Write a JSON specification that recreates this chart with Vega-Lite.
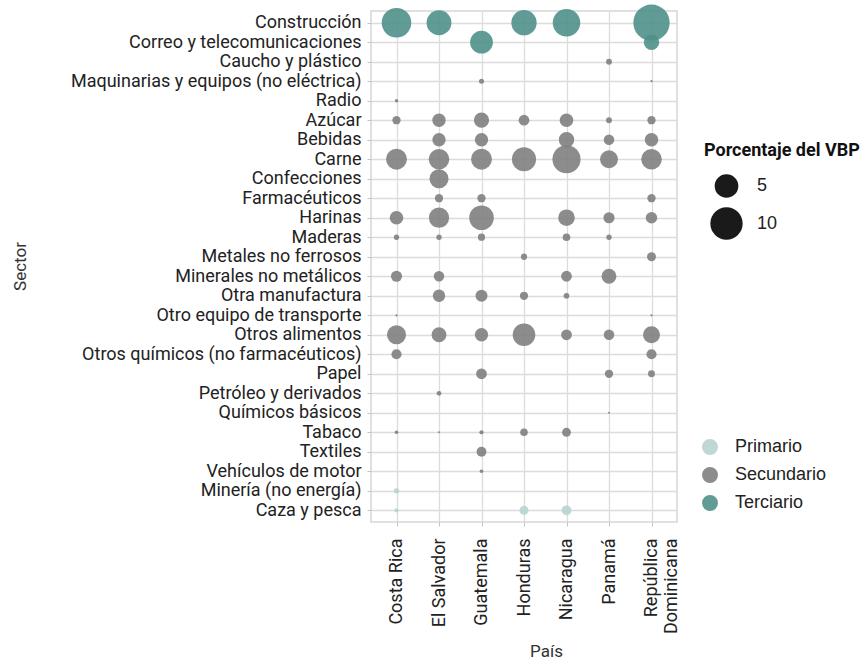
{
  "$schema": "https://vega.github.io/schema/vega-lite/v6.json",
  "width": 306,
  "height": 511,
  "autosize": {"type": "none"},
  "padding": {"left": 371, "top": 11, "right": 189, "bottom": 138},
  "background": "white",
  "config": {
    "font": "Roboto",
    "view": {"stroke": "#d6d6d6", "strokeWidth": 1.5},
    "axis": {
      "grid": true, "ticks": true,
      "gridColor": "#dcdcdc", "gridWidth": 1.3, "domain": false,
      "tickColor": "#c4c4c4", "tickSize": 4, "labelLimit": 0,
      "labelFont": "Roboto", "labelFontSize": 18, "labelColor": "#222",
      "titleFont": "Roboto", "titleFontSize": 17, "titleFontWeight": "normal", "titleColor": "#333"
    }
  },
  "data": {"values": [
    {"sector": "Construcción", "pais": "Costa Rica", "pct": 8.2, "tipo": "Terciario"},
    {"sector": "Construcción", "pais": "El Salvador", "pct": 5.6, "tipo": "Terciario"},
    {"sector": "Construcción", "pais": "Honduras", "pct": 5.8, "tipo": "Terciario"},
    {"sector": "Construcción", "pais": "Nicaragua", "pct": 7.0, "tipo": "Terciario"},
    {"sector": "Construcción", "pais": "República Dominicana", "pct": 13.0, "tipo": "Terciario"},
    {"sector": "Correo y telecomunicaciones", "pais": "Guatemala", "pct": 4.6, "tipo": "Terciario"},
    {"sector": "Correo y telecomunicaciones", "pais": "República Dominicana", "pct": 1.9, "tipo": "Terciario"},
    {"sector": "Caucho y plástico", "pais": "Panamá", "pct": 0.21, "tipo": "Secundario"},
    {"sector": "Maquinarias y equipos (no eléctrica)", "pais": "Guatemala", "pct": 0.14, "tipo": "Secundario"},
    {"sector": "Maquinarias y equipos (no eléctrica)", "pais": "República Dominicana", "pct": 0.01, "tipo": "Secundario"},
    {"sector": "Radio", "pais": "Costa Rica", "pct": 0.05, "tipo": "Secundario"},
    {"sector": "Azúcar", "pais": "Costa Rica", "pct": 0.46, "tipo": "Secundario"},
    {"sector": "Azúcar", "pais": "El Salvador", "pct": 1.38, "tipo": "Secundario"},
    {"sector": "Azúcar", "pais": "Guatemala", "pct": 1.85, "tipo": "Secundario"},
    {"sector": "Azúcar", "pais": "Honduras", "pct": 0.85, "tipo": "Secundario"},
    {"sector": "Azúcar", "pais": "Nicaragua", "pct": 1.44, "tipo": "Secundario"},
    {"sector": "Azúcar", "pais": "Panamá", "pct": 0.21, "tipo": "Secundario"},
    {"sector": "Azúcar", "pais": "República Dominicana", "pct": 0.46, "tipo": "Secundario"},
    {"sector": "Bebidas", "pais": "El Salvador", "pct": 1.38, "tipo": "Secundario"},
    {"sector": "Bebidas", "pais": "Guatemala", "pct": 1.38, "tipo": "Secundario"},
    {"sector": "Bebidas", "pais": "Nicaragua", "pct": 1.92, "tipo": "Secundario"},
    {"sector": "Bebidas", "pais": "Panamá", "pct": 0.8, "tipo": "Secundario"},
    {"sector": "Bebidas", "pais": "República Dominicana", "pct": 1.44, "tipo": "Secundario"},
    {"sector": "Carne", "pais": "Costa Rica", "pct": 3.77, "tipo": "Secundario"},
    {"sector": "Carne", "pais": "El Salvador", "pct": 3.66, "tipo": "Secundario"},
    {"sector": "Carne", "pais": "Guatemala", "pct": 3.77, "tipo": "Secundario"},
    {"sector": "Carne", "pais": "Honduras", "pct": 5.21, "tipo": "Secundario"},
    {"sector": "Carne", "pais": "Nicaragua", "pct": 7.34, "tipo": "Secundario"},
    {"sector": "Carne", "pais": "Panamá", "pct": 2.68, "tipo": "Secundario"},
    {"sector": "Carne", "pais": "República Dominicana", "pct": 3.66, "tipo": "Secundario"},
    {"sector": "Confecciones", "pais": "El Salvador", "pct": 3.09, "tipo": "Secundario"},
    {"sector": "Farmacéuticos", "pais": "El Salvador", "pct": 0.46, "tipo": "Secundario"},
    {"sector": "Farmacéuticos", "pais": "Guatemala", "pct": 0.46, "tipo": "Secundario"},
    {"sector": "Farmacéuticos", "pais": "República Dominicana", "pct": 0.46, "tipo": "Secundario"},
    {"sector": "Harinas", "pais": "Costa Rica", "pct": 1.44, "tipo": "Secundario"},
    {"sector": "Harinas", "pais": "El Salvador", "pct": 3.52, "tipo": "Secundario"},
    {"sector": "Harinas", "pais": "Guatemala", "pct": 5.47, "tipo": "Secundario"},
    {"sector": "Harinas", "pais": "Nicaragua", "pct": 2.27, "tipo": "Secundario"},
    {"sector": "Harinas", "pais": "Panamá", "pct": 0.91, "tipo": "Secundario"},
    {"sector": "Harinas", "pais": "República Dominicana", "pct": 0.98, "tipo": "Secundario"},
    {"sector": "Maderas", "pais": "Costa Rica", "pct": 0.16, "tipo": "Secundario"},
    {"sector": "Maderas", "pais": "El Salvador", "pct": 0.16, "tipo": "Secundario"},
    {"sector": "Maderas", "pais": "Guatemala", "pct": 0.34, "tipo": "Secundario"},
    {"sector": "Maderas", "pais": "Nicaragua", "pct": 0.38, "tipo": "Secundario"},
    {"sector": "Maderas", "pais": "Panamá", "pct": 0.16, "tipo": "Secundario"},
    {"sector": "Metales no ferrosos", "pais": "Honduras", "pct": 0.24, "tipo": "Secundario"},
    {"sector": "Metales no ferrosos", "pais": "República Dominicana", "pct": 0.55, "tipo": "Secundario"},
    {"sector": "Minerales no metálicos", "pais": "Costa Rica", "pct": 0.91, "tipo": "Secundario"},
    {"sector": "Minerales no metálicos", "pais": "El Salvador", "pct": 0.8, "tipo": "Secundario"},
    {"sector": "Minerales no metálicos", "pais": "Nicaragua", "pct": 0.85, "tipo": "Secundario"},
    {"sector": "Minerales no metálicos", "pais": "Panamá", "pct": 1.75, "tipo": "Secundario"},
    {"sector": "Otra manufactura", "pais": "El Salvador", "pct": 1.17, "tipo": "Secundario"},
    {"sector": "Otra manufactura", "pais": "Guatemala", "pct": 1.09, "tipo": "Secundario"},
    {"sector": "Otra manufactura", "pais": "Honduras", "pct": 0.46, "tipo": "Secundario"},
    {"sector": "Otra manufactura", "pais": "Nicaragua", "pct": 0.19, "tipo": "Secundario"},
    {"sector": "Otro equipo de transporte", "pais": "Costa Rica", "pct": 0.01, "tipo": "Secundario"},
    {"sector": "Otro equipo de transporte", "pais": "República Dominicana", "pct": 0.01, "tipo": "Secundario"},
    {"sector": "Otros alimentos", "pais": "Costa Rica", "pct": 3.09, "tipo": "Secundario"},
    {"sector": "Otros alimentos", "pais": "El Salvador", "pct": 1.75, "tipo": "Secundario"},
    {"sector": "Otros alimentos", "pais": "Guatemala", "pct": 1.38, "tipo": "Secundario"},
    {"sector": "Otros alimentos", "pais": "Honduras", "pct": 4.52, "tipo": "Secundario"},
    {"sector": "Otros alimentos", "pais": "Nicaragua", "pct": 0.85, "tipo": "Secundario"},
    {"sector": "Otros alimentos", "pais": "Panamá", "pct": 0.8, "tipo": "Secundario"},
    {"sector": "Otros alimentos", "pais": "República Dominicana", "pct": 2.38, "tipo": "Secundario"},
    {"sector": "Otros químicos (no farmacéuticos)", "pais": "Costa Rica", "pct": 0.74, "tipo": "Secundario"},
    {"sector": "Otros químicos (no farmacéuticos)", "pais": "República Dominicana", "pct": 0.74, "tipo": "Secundario"},
    {"sector": "Papel", "pais": "Guatemala", "pct": 0.85, "tipo": "Secundario"},
    {"sector": "Papel", "pais": "Panamá", "pct": 0.46, "tipo": "Secundario"},
    {"sector": "Papel", "pais": "República Dominicana", "pct": 0.31, "tipo": "Secundario"},
    {"sector": "Petróleo y derivados", "pais": "El Salvador", "pct": 0.12, "tipo": "Secundario"},
    {"sector": "Químicos básicos", "pais": "Panamá", "pct": 0.005, "tipo": "Secundario"},
    {"sector": "Tabaco", "pais": "Costa Rica", "pct": 0.06, "tipo": "Secundario"},
    {"sector": "Tabaco", "pais": "El Salvador", "pct": 0.005, "tipo": "Secundario"},
    {"sector": "Tabaco", "pais": "Guatemala", "pct": 0.09, "tipo": "Secundario"},
    {"sector": "Tabaco", "pais": "Honduras", "pct": 0.38, "tipo": "Secundario"},
    {"sector": "Tabaco", "pais": "Nicaragua", "pct": 0.55, "tipo": "Secundario"},
    {"sector": "Textiles", "pais": "Guatemala", "pct": 0.69, "tipo": "Secundario"},
    {"sector": "Vehículos de motor", "pais": "Guatemala", "pct": 0.06, "tipo": "Secundario"},
    {"sector": "Minería (no energía)", "pais": "Costa Rica", "pct": 0.16, "tipo": "Primario"},
    {"sector": "Caza y pesca", "pais": "Costa Rica", "pct": 0.09, "tipo": "Primario"},
    {"sector": "Caza y pesca", "pais": "Honduras", "pct": 0.55, "tipo": "Primario"},
    {"sector": "Caza y pesca", "pais": "Nicaragua", "pct": 0.69, "tipo": "Primario"}
  ]},
  "mark": {"type": "point", "filled": true, "opacity": 0.9, "strokeWidth": 0},
  "encoding": {
    "x": {
      "field": "pais", "type": "nominal",
      "sort": ["Costa Rica", "El Salvador", "Guatemala", "Honduras", "Nicaragua", "Panamá", "República Dominicana"],
      "scale": {"type": "point", "padding": 0.6},
      "axis": {
        "title": "País", "labelAngle": -90, "labelAlign": "right", "labelBaseline": "middle",
        "labelPadding": 12, "labelLineHeight": 20,
        "labelExpr": "datum.value == 'República Dominicana' ? ['República', 'Dominicana'] : datum.value",
        "titleX": 175, "titleY": 134, "titleAlign": "center", "titleBaseline": "alphabetic"
      }
    },
    "y": {
      "field": "sector", "type": "nominal",
      "sort": ["Construcción", "Correo y telecomunicaciones", "Caucho y plástico", "Maquinarias y equipos (no eléctrica)", "Radio", "Azúcar", "Bebidas", "Carne", "Confecciones", "Farmacéuticos", "Harinas", "Maderas", "Metales no ferrosos", "Minerales no metálicos", "Otra manufactura", "Otro equipo de transporte", "Otros alimentos", "Otros químicos (no farmacéuticos)", "Papel", "Petróleo y derivados", "Químicos básicos", "Tabaco", "Textiles", "Vehículos de motor", "Minería (no energía)", "Caza y pesca"],
      "scale": {"type": "point", "padding": 0.6},
      "axis": {
        "title": "Sector", "labelPadding": 6,
        "titleX": -346, "titleY": 255, "titleAlign": "center", "titleBaseline": "alphabetic", "titleAngle": -90
      }
    },
    "size": {
      "field": "pct", "type": "quantitative", "title": "Porcentaje del VBP",
      "scale": {"type": "pow", "exponent": 0.9, "domain": [0, 13], "range": [3, 1320]},
      "legend": {
        "values": [5, 10], "orient": "none", "legendX": 333, "legendY": 131, "padding": 0,
        "titleFont": "Roboto", "titleFontSize": 18, "titleFontWeight": "bold", "titleColor": "#111", "titlePadding": 14,
        "labelFont": "Liberation Sans", "labelFontSize": 18, "labelColor": "#222", "labelOffset": 14,
        "symbolOffset": 6,
        "symbolFillColor": "#1a1a1a", "symbolStrokeWidth": 0, "symbolOpacity": 1, "rowPadding": 9
      }
    },
    "color": {
      "field": "tipo", "type": "nominal",
      "scale": {"domain": ["Primario", "Secundario", "Terciario"], "range": ["#b8d3d0", "#808080", "#4f9189"]},
      "legend": {
        "title": null, "orient": "none", "legendX": 330, "legendY": 427, "padding": 0,
        "symbolType": "circle", "symbolSize": 254, "symbolOpacity": 0.9, "symbolStrokeWidth": 0,
        "labelFont": "Liberation Sans", "labelFontSize": 18, "labelColor": "#222", "labelOffset": 16, "rowPadding": 10
      }
    }
  }
}
